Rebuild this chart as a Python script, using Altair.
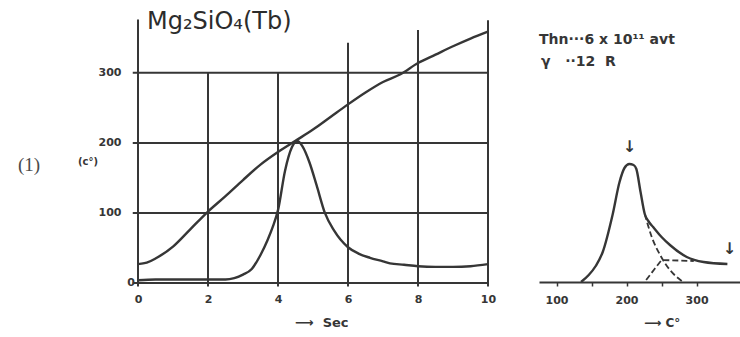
import altair as alt
import pandas as pd

# ---------------- data: left panel (time scale) ----------------
temp_t = [0, 0.25, 0.5, 1, 1.5, 2, 2.5, 3, 3.5, 4, 4.5, 5, 5.5, 6, 6.5, 7, 7.5, 8, 8.5, 9, 9.5, 10]
temp_c = [27, 29, 35, 52, 77, 102, 124, 147, 169, 187, 203, 219, 237, 255, 272, 287, 298, 314, 326, 338, 349, 359]

glow_t = [0, 0.5, 1, 1.5, 2, 2.5, 2.75, 3, 3.25, 3.5, 3.7, 3.85, 4, 4.2, 4.4, 4.54, 4.7, 4.9, 5.1, 5.34,
          5.6, 6, 6.3, 6.63, 7, 7.2, 7.6, 8, 8.5, 9, 9.5, 10]
glow_i = [4, 5, 5, 5, 5, 5, 7, 12, 20, 40, 61, 80, 104, 160, 194, 203, 195, 172, 140, 100,
          75, 51, 42, 36, 31, 28, 26, 24, 23, 23, 24, 27]

x_ticks = [0, 2, 4, 6, 8, 10]
y_ticks = [100, 200, 300]
hgrid_y = [0, 100, 200, 300]
vgrid_x = [0, 2, 4, 6, 8, 10]
vgrid_top = [376, 300, 300, 343, 361, 375]

# ---------------- data: right panel (glow curve vs temperature) ----------------
gc_T = [135, 146, 156, 166, 180, 190, 197, 204, 210, 214, 220, 226, 232, 238, 250, 262, 286, 310, 344]
gc_I = [0, 7, 16, 30, 67, 100, 114, 118, 117, 113, 90, 68, 60, 55, 45, 37, 25, 20, 18]
d1_T = [226, 236, 248, 262, 277, 281]
d1_I = [68, 45, 27, 12, 2, 0]
d2_T = [228, 240, 250, 296]
d2_I = [2, 13, 22, 21]
r_ticks = [100, 150, 200, 250, 300]
arrow_T = [204, 347]
arrow_I = [135, 33]

INK = "#363636"
FONT = "DejaVu Sans"
NB = "\u00a0"

one = pd.DataFrame({"a": [0]})

# ---------------- left panel ----------------
xs1 = alt.Scale(domain=[0, 10], nice=False, zero=False)
ys1 = alt.Scale(domain=[0, 404], nice=False)

ax_x1 = alt.Axis(values=x_ticks, domain=False, ticks=False, grid=False, labelPadding=10,
                 labelFont=FONT, labelFontWeight="bold", labelFontSize=11, labelColor=INK,
                 labelFlush=False, title=None, format="d")
ax_y1 = alt.Axis(values=y_ticks, domain=False, ticks=False, grid=False, labelPadding=17,
                 labelFont=FONT, labelFontWeight="bold", labelFontSize=11, labelColor=INK,
                 title=None, format="d")

df_temp = pd.DataFrame({"t": temp_t, "v": temp_c})
df_glow = pd.DataFrame({"t": glow_t, "v": glow_i})
df_h = pd.DataFrame({"y": hgrid_y})
df_v = pd.DataFrame({"x": vgrid_x, "top": vgrid_top})

hrules = alt.Chart(df_h).mark_rule(color=INK, strokeWidth=2).transform_calculate(
    x0="-0.15", x1="10"
).encode(
    y=alt.Y("y:Q", scale=ys1, axis=ax_y1),
    x=alt.X("x0:Q", scale=xs1, axis=ax_x1),
    x2="x1:Q",
)
vrules = alt.Chart(df_v).mark_rule(color=INK, strokeWidth=2).transform_calculate(
    bot="-5"
).encode(
    x=alt.X("x:Q", scale=xs1, axis=ax_x1),
    y=alt.Y("bot:Q", scale=ys1, axis=ax_y1),
    y2="top:Q",
)
temp_line = alt.Chart(df_temp).mark_line(color=INK, strokeWidth=2.4, interpolate="monotone").encode(
    x=alt.X("t:Q", scale=xs1, axis=ax_x1),
    y=alt.Y("v:Q", scale=ys1, axis=ax_y1),
)
glow_line = alt.Chart(df_glow).mark_line(color=INK, strokeWidth=2.4, interpolate="monotone").encode(
    x=alt.X("t:Q", scale=xs1, axis=ax_x1),
    y=alt.Y("v:Q", scale=ys1, axis=ax_y1),
)
zero_lab = alt.Chart(one).mark_text(align="right", baseline="middle", font=FONT, fontWeight="bold",
                                    fontSize=11, color=INK).transform_calculate(v="0").encode(
    x=alt.value(-3), y=alt.Y("v:Q", scale=ys1, axis=ax_y1), text=alt.value("0"))
title_t = alt.Chart(one).mark_text(align="left", baseline="alphabetic", font=FONT, fontSize=24,
                                   color="#2c2c2c").encode(
    x=alt.value(9), y=alt.value(29), text=alt.value("Mg₂SiO₄(Tb)"))
num_t = alt.Chart(one).mark_text(align="left", baseline="middle", font="Liberation Serif", fontSize=19,
                                 color="#4a4a4a").encode(
    x=alt.value(-120), y=alt.value(165), text=alt.value("(1)"))
unit_t = alt.Chart(one).mark_text(align="left", baseline="middle", font=FONT, fontWeight="bold",
                                  fontSize=10, color=INK).encode(
    x=alt.value(-60), y=alt.value(162), text=alt.value("(c°)"))
sec_t = alt.Chart(one).mark_text(align="left", baseline="middle", font=FONT, fontWeight="bold",
                                 fontSize=13, color=INK).encode(
    x=alt.value(157), y=alt.value(323), text=alt.value("⟶" + NB * 2 + "Sec"))

left = alt.layer(hrules, vrules, temp_line, glow_line, zero_lab, title_t, num_t, unit_t, sec_t).properties(
    width=350, height=283)

# ---------------- right panel ----------------
xs2 = alt.Scale(domain=[75, 362], nice=False, zero=False)
ys2 = alt.Scale(domain=[0, 282], nice=False)

ax_x2 = alt.Axis(values=r_ticks, labelExpr="datum.value % 100 === 0 ? datum.label : ''",
                 domainColor=INK, domainWidth=2, tickColor=INK, tickWidth=1.5, tickSize=4,
                 labelPadding=8, grid=False, labelFlush=False, title=None,
                 labelFont=FONT, labelFontWeight="bold", labelFontSize=11, labelColor=INK, format="d")

df_gc = pd.DataFrame({"T": gc_T, "I": gc_I})
df_d1 = pd.DataFrame({"T": d1_T, "I": d1_I})
df_d2 = pd.DataFrame({"T": d2_T, "I": d2_I})
df_ar = pd.DataFrame({"T": arrow_T, "I": arrow_I})

gc_line = alt.Chart(df_gc).mark_line(color=INK, strokeWidth=2.4, interpolate="monotone").encode(
    x=alt.X("T:Q", scale=xs2, axis=ax_x2),
    y=alt.Y("I:Q", scale=ys2, axis=None),
)
d1_line = alt.Chart(df_d1).mark_line(color=INK, strokeWidth=1.8, strokeDash=[6, 3],
                                     interpolate="monotone").encode(
    x=alt.X("T:Q", scale=xs2, axis=ax_x2),
    y=alt.Y("I:Q", scale=ys2, axis=None),
)
d2_line = alt.Chart(df_d2).mark_line(color=INK, strokeWidth=1.8, strokeDash=[6, 3],
                                     interpolate="linear").encode(
    x=alt.X("T:Q", scale=xs2, axis=ax_x2),
    y=alt.Y("I:Q", scale=ys2, axis=None),
)
arrows = alt.Chart(df_ar).mark_text(font=FONT, fontSize=16, fontWeight="bold", color=INK,
                                    baseline="middle", align="center").encode(
    x=alt.X("T:Q", scale=xs2, axis=ax_x2),
    y=alt.Y("I:Q", scale=ys2, axis=None),
    text=alt.value("↓"),
)
irr_t = alt.Chart(one).mark_text(align="left", baseline="middle", font=FONT, fontWeight="bold",
                                 fontSize=14, color=INK).encode(
    x=alt.value(0), y=alt.value(40), text=alt.value("Thn···6 x 10¹¹ avt"))
gam_t = alt.Chart(one).mark_text(align="left", baseline="middle", font=FONT, fontWeight="bold",
                                 fontSize=14, color=INK).encode(
    x=alt.value(2), y=alt.value(62), text=alt.value("γ" + NB * 3 + "··12" + NB * 2 + "R"))
c_t = alt.Chart(one).mark_text(align="left", baseline="middle", font=FONT, fontWeight="bold",
                               fontSize=12, color=INK).encode(
    x=alt.value(105), y=alt.value(323), text=alt.value("⟶" + NB + "C°"))

right = alt.layer(gc_line, d1_line, d2_line, arrows, irr_t, gam_t, c_t).properties(width=201, height=282)

chart = alt.hconcat(left, right, spacing=43).properties(
    padding={"left": 18, "top": 0, "right": 0, "bottom": 0},
    background="white",
).configure_view(stroke=None)

chart.save("out.html", embed_options={"renderer": "svg", "actions": False})
